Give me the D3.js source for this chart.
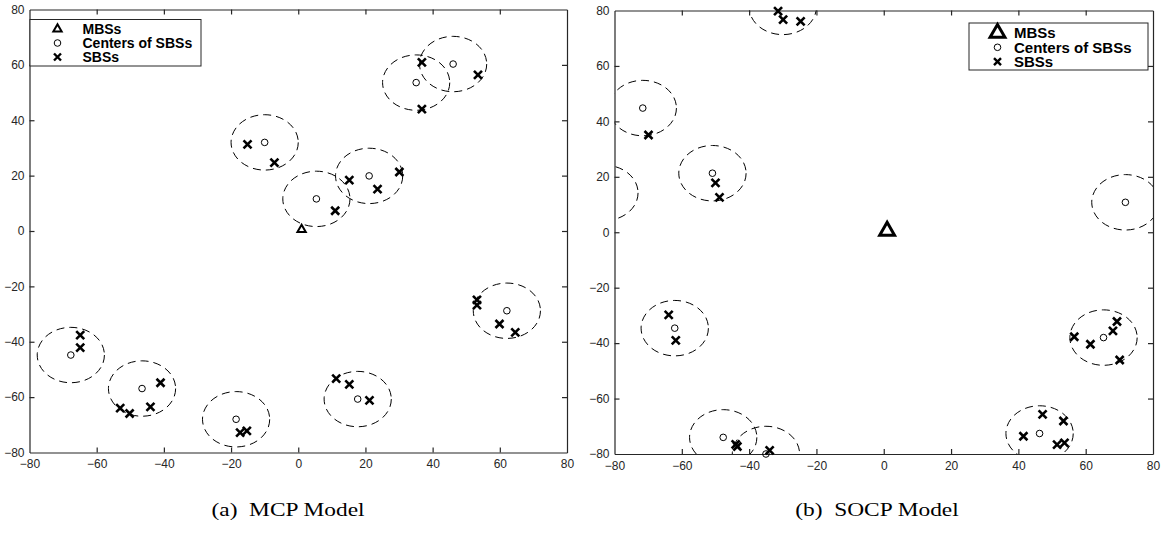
<!DOCTYPE html>
<html lang="en">
  <head>
    <meta charset="utf-8">
    <title>MCP vs SOCP placement</title>
    <script src="https://cdnjs.cloudflare.com/ajax/libs/d3/7.8.5/d3.min.js"></script>
    <style>
      body {
        margin: 0;
        background: #fff;
      }

      .tick text {
        font-family: "Liberation Sans", Arial, sans-serif;
        font-size: 12px;
        fill: #262626;
      }

      .tick line,
      .domain {
        stroke: #262626;
        stroke-width: 1.2px;
      }

      .legend text {
        font-family: "Liberation Sans", Arial, sans-serif;
        font-weight: bold;
        fill: #000;
      }

      .caption {
        font-family: "Liberation Serif", "Times New Roman", serif;
        font-size: 18px;
        fill: #000;
      }
    </style>
  </head>
  <body>
    <div id="vis"></div>
<script>
    // axis ticks shared by both panels
    var ticks = [-80, -60, -40, -20, 0, 20, 40, 60, 80];
    var clusterRadius = 10;
    var legendLabels = ['MBSs', 'Centers of SBSs', 'SBSs'];
    var captions = ['(a)  MCP Model', '(b)  SOCP Model'];

    // (a) MCP model
    var mcpMbs = [[1, 0.5]];
    var mcpCenters = [
        [-10, 32], [5.4, 11.6], [21.1, 19.9], [35.1, 53.6], [46.1, 60.3],
        [62.1, -28.8], [17.7, -60.7], [-67.7, -44.8], [-46.5, -56.9], [-18.5, -68]
    ];
    var mcpSbs = [
        [-15.1, 31.3], [-7.1, 24.7], [11, 7.3], [15.2, 18.4], [23.6, 15.1],
        [30.1, 21.3], [36.8, 60.9], [36.8, 44], [53.5, 56.4], [53.2, -24.9],
        [53.2, -26.8], [59.9, -33.6], [64.6, -36.6], [11.3, -53.3], [15.2, -55.4],
        [21.2, -61.2], [-64.9, -37.6], [-64.9, -42.1], [-53, -64], [-50.2, -65.9],
        [-44, -63.5], [-41, -54.8], [-17.3, -72.8], [-15.3, -72.2]
    ];

    // (b) SOCP model
    var socpMbs = [[1, 0.5]];
    var socpCenters = [
        [-71.6, 44.8], [-50.9, 21.3], [-83, 14.2], [-30, 81.3], [71.8, 10.8],
        [-62.1, -34.6], [-47.7, -74], [-35, -80], [65.3, -38], [46.3, -72.6]
    ];
    var socpSbs = [
        [-69.9, 35.1], [-50, 17.8], [-48.8, 12.6], [-31.4, 79.8], [-29.9, 76.7],
        [-24.7, 76.1], [-63.9, -29.8], [-61.8, -39], [-44, -76.5], [-43.5, -77.3],
        [-33.9, -78.7], [56.6, -37.7], [61.4, -40.4], [68.1, -35.6], [69.3, -32.2],
        [70.1, -46.1], [41.5, -73.6], [47.2, -65.7], [53.4, -68.1], [51.5, -76.6],
        [53.7, -76]
    ];

    var svg = d3.select('#vis')
        .append('svg')
        .attr('width', 1164)
        .attr('height', 537);

    var crossPath = 'M-4,-4L4,4M-4,4L4,-4';

    function triangle(size) {
        return d3.symbol().type(d3.symbolTriangle).size(size)();
    }

    function drawPanel(p) {
        var x_scale = d3.scaleLinear().domain([-80, 80]).range([p.left, p.right]);
        var y_scale = d3.scaleLinear().domain([-80, 80]).range([p.bottom, p.top]);

        var g = svg.append('g');

        g.append('clipPath')
            .attr('id', p.id)
            .append('rect')
            .attr('x', p.left)
            .attr('y', p.top)
            .attr('width', p.right - p.left)
            .attr('height', p.bottom - p.top);

        // dashed coverage circles
        g.append('g')
            .attr('clip-path', 'url(#' + p.id + ')')
            .selectAll('ellipse')
            .data(p.centers)
            .enter()
            .append('ellipse')
            .attr('cx', function(d) { return x_scale(d[0]); })
            .attr('cy', function(d) { return y_scale(d[1]); })
            .attr('rx', function(d) { return x_scale(d[0] + clusterRadius) - x_scale(d[0]); })
            .attr('ry', function(d) { return y_scale(d[1]) - y_scale(d[1] + clusterRadius); })
            .attr('fill', 'none')
            .attr('stroke', '#000')
            .attr('stroke-width', 1)
            .attr('stroke-dasharray', '8,5');

        // axes, ticks inside on all four sides
        g.append('g')
            .attr('transform', 'translate(0,' + p.bottom + ')')
            .call(d3.axisBottom(x_scale).tickValues(ticks).tickSize(-5).tickSizeOuter(0).tickPadding(7));
        g.append('g')
            .attr('transform', 'translate(0,' + p.top + ')')
            .call(d3.axisTop(x_scale).tickValues(ticks).tickSize(-5).tickSizeOuter(0).tickFormat(''));
        g.append('g')
            .attr('transform', 'translate(' + p.left + ',0)')
            .call(d3.axisLeft(y_scale).tickValues(ticks).tickSize(-5).tickSizeOuter(0).tickPadding(5));
        g.append('g')
            .attr('transform', 'translate(' + p.right + ',0)')
            .call(d3.axisRight(y_scale).tickValues(ticks).tickSize(-5).tickSizeOuter(0).tickFormat(''));

        g.selectAll('.tick line').filter(function(d) { return d === -80 || d === 80; }).remove();

        var inside = function(d) {
            return d[0] >= -80 && d[0] <= 80 && d[1] >= -80 && d[1] <= 80;
        };

        g.selectAll('.center')
            .data(p.centers.filter(inside))
            .enter()
            .append('circle')
            .attr('class', 'center')
            .attr('cx', function(d) { return x_scale(d[0]); })
            .attr('cy', function(d) { return y_scale(d[1]); })
            .attr('r', 3.3)
            .attr('fill', 'none')
            .attr('stroke', '#000')
            .attr('stroke-width', 1);

        g.selectAll('.sbs')
            .data(p.sbs)
            .enter()
            .append('path')
            .attr('class', 'sbs')
            .attr('d', crossPath)
            .attr('transform', function(d) { return 'translate(' + x_scale(d[0]) + ',' + y_scale(d[1]) + ')'; })
            .attr('fill', 'none')
            .attr('stroke', '#000')
            .attr('stroke-width', 2.6);

        g.selectAll('.mbs')
            .data(p.mbs)
            .enter()
            .append('path')
            .attr('class', 'mbs')
            .attr('d', triangle(p.triSize))
            .attr('transform', function(d) { return 'translate(' + x_scale(d[0]) + ',' + y_scale(d[1]) + ')'; })
            .attr('fill', 'none')
            .attr('stroke', '#000')
            .attr('stroke-width', p.triStroke)
            .attr('stroke-linejoin', 'miter');

        // legend box
        var lg = g.append('g').attr('class', 'legend');
        lg.append('rect')
            .attr('x', p.legend.x)
            .attr('y', p.legend.y)
            .attr('width', p.legend.w)
            .attr('height', p.legend.h)
            .attr('fill', '#fff')
            .attr('stroke', '#262626')
            .attr('stroke-width', 1);

        var rows = lg.selectAll('.row')
            .data(legendLabels)
            .enter()
            .append('g')
            .attr('class', 'row')
            .attr('transform', function(d, i) {
                return 'translate(' + p.legend.mx + ',' + (p.legend.ry + i * p.legend.step) + ')';
            });

        rows.append('path')
            .attr('d', function(d, i) {
                if (i === 0) return triangle(p.triSize);
                if (i === 1) return d3.arc()({innerRadius: 0, outerRadius: 3.3, startAngle: 0, endAngle: 2 * Math.PI});
                return 'M-3.5,-3.5L3.5,3.5M-3.5,3.5L3.5,-3.5';
            })
            .attr('fill', 'none')
            .attr('stroke', '#000')
            .attr('stroke-width', function(d, i) { return i === 0 ? p.triStroke : (i === 1 ? 1 : 2.4); });

        rows.append('text')
            .attr('x', p.legend.tx - p.legend.mx)
            .attr('dy', '0.36em')
            .style('font-size', p.legend.fs + 'px')
            .text(function(d) { return d; });

        svg.append('text')
            .attr('class', 'caption')
            .attr('transform', 'translate(' + p.captionX + ',516) scale(1.3,1)')
            .attr('text-anchor', 'middle')
            .style('white-space', 'pre')
            .text(p.caption);
    }

    drawPanel({
        id: 'clipA', left: 29.5, right: 567, top: 9.5, bottom: 452.5,
        centers: mcpCenters, sbs: mcpSbs, mbs: mcpMbs,
        triSize: 30, triStroke: 2,
        legend: {x: 30, y: 19.5, w: 171, h: 46.5, mx: 57.5, tx: 82.5, ry: 29, step: 14, fs: 14},
        caption: captions[0], captionX: 288
    });

    drawPanel({
        id: 'clipB', left: 614.5, right: 1153, top: 10.5, bottom: 454,
        centers: socpCenters, sbs: socpSbs, mbs: socpMbs,
        triSize: 95, triStroke: 3,
        legend: {x: 969, y: 23, w: 179, h: 47, mx: 997.5, tx: 1014, ry: 33, step: 14.3, fs: 15},
        caption: captions[1], captionX: 877
    });
</script>
  </body>
</html>
